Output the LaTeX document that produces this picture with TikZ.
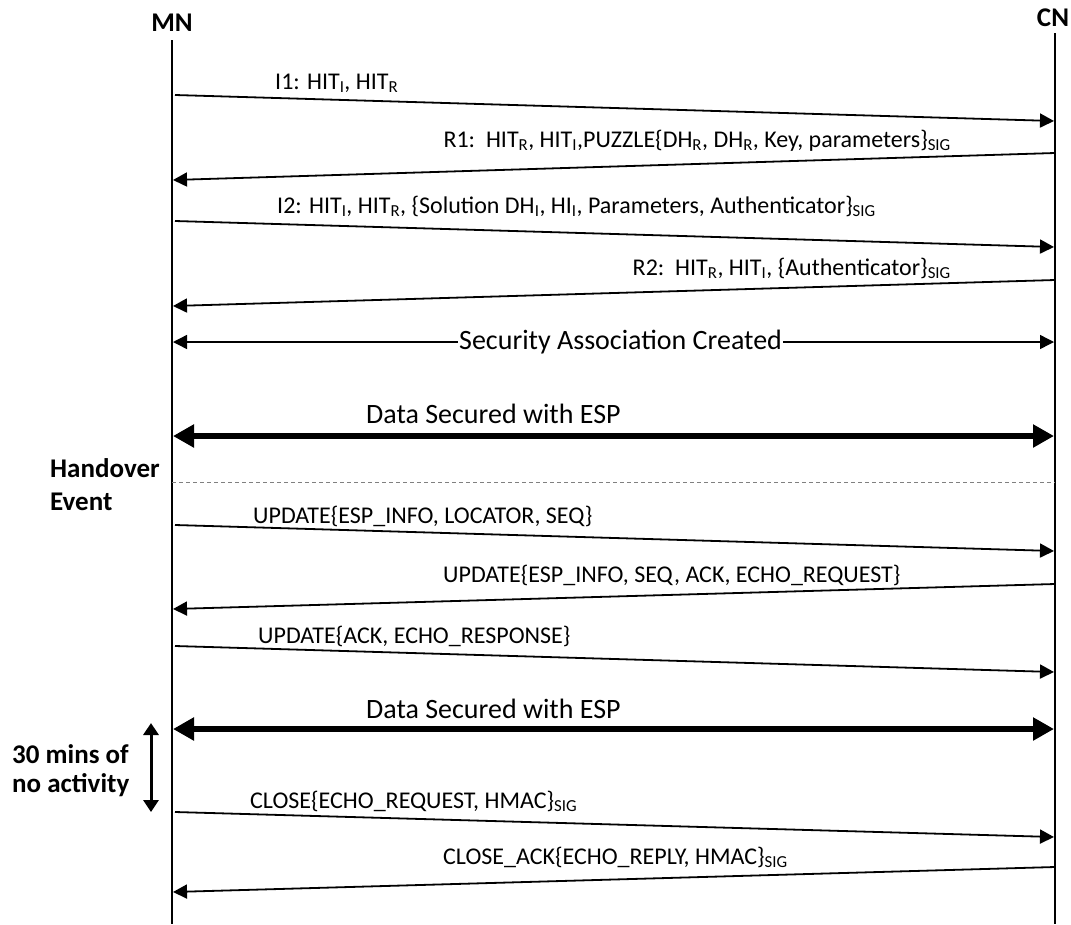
\documentclass[tikz,border=0pt]{standalone}
\usepackage{fontspec}
\setmainfont{Carlito}
\usetikzlibrary{arrows.meta}
\newcommand{\sbs}[1]{\textsubscript{#1}}

\tikzset{
  lifeline/.style={line width=2.2pt},
  msg/.style={line width=1.8pt,-{Triangle[length=14pt,width=14pt]}},
  both/.style={line width=1.4pt,{Triangle[length=14pt,width=14pt]}-{Triangle[length=14pt,width=14pt]}},
  bulk/.style={line width=6pt,{Triangle[length=21pt,width=22pt]}-{Triangle[length=21pt,width=22pt]}},
  idle/.style={line width=3pt,{Triangle[length=12pt,width=15pt]}-{Triangle[length=12pt,width=15pt]}},
  sep/.style={line width=1pt,gray,dash pattern=on 4pt off 3pt},
  lbl/.style={inner sep=0pt,font=\fontsize{24}{28}\selectfont},
  big/.style={inner sep=0pt,font=\fontsize{28}{32}\selectfont},
  head/.style={inner sep=0pt,font=\fontsize{27}{32}\selectfont\bfseries},
}

\begin{document}
\begin{tikzpicture}[x=1pt,y=-1pt]
\useasboundingbox (0,0) rectangle (1071,924);
% lifelines
\node[head] (mn) at (172,23) {MN};
\node[head] (cn) at (1053,18) {CN};
\coordinate (mntop) at (172,40);
\coordinate (mnbot) at (172,924);
\coordinate (cntop) at (1055,33);
\coordinate (cnbot) at (1055,924);
\draw[lifeline] (mntop) -- (mnbot);
\draw[lifeline] (cntop) -- (cnbot);

% base exchange
\coordinate (i1a) at (175,95);
\coordinate (i1b) at (1054,121);
\draw[msg] (i1a) -- (i1b);
\node[lbl,anchor=base west] (i1) at (275,89) {I1: HIT\sbs{I}, HIT\sbs{R}};
\coordinate (r1a) at (1055,153);
\coordinate (r1b) at (173,180);
\draw[msg] (r1a) -- (r1b);
\node[lbl,anchor=base east] (r1) at (951,147) {R1:\ \ HIT\sbs{R}, HIT\sbs{I},PUZZLE\{DH\sbs{R}, DH\sbs{R}, Key, parameters\}\sbs{SIG}};
\coordinate (i2a) at (175,221);
\coordinate (i2b) at (1054,247);
\draw[msg] (i2a) -- (i2b);
\node[lbl,anchor=base west] (i2) at (277,213) {I2: HIT\sbs{I}, HIT\sbs{R}, \{Solution DH\sbs{I}, HI\sbs{I}, Parameters, Authenticator\}\sbs{SIG}};
\coordinate (r2a) at (1055,280);
\coordinate (r2b) at (173,306);
\draw[msg] (r2a) -- (r2b);
\node[lbl,anchor=base east] (r2) at (951,275) {R2:\ \ HIT\sbs{R}, HIT\sbs{I}, \{Authenticator\}\sbs{SIG}};

% association
\coordinate (saa) at (173,342);
\coordinate (sab) at (1054,342);
\draw[both] (saa) -- node[big,pos=0.508,fill=white,inner xsep=1pt,inner ysep=2pt] (sa) {Security Association Created} (sab);
\coordinate (d1a) at (173,436);
\coordinate (d1b) at (1054,436);
\draw[bulk] (d1a) -- (d1b);
\node[big,anchor=base west] (d1) at (366,423) {Data Secured with ESP};

% handover
\coordinate (hoa) at (172,482);
\coordinate (hob) at (1055,482);
\draw[sep] (hoa) -- (hob);
\node[head,anchor=base west] (ho1) at (50,477) {Handover};
\node[head,anchor=base west] (ho2) at (50,510) {Event};
\coordinate (u1a) at (175,525);
\coordinate (u1b) at (1054,551);
\draw[msg] (u1a) -- (u1b);
\node[lbl,anchor=base west] (u1) at (253,523) {UPDATE\{ESP\_INFO, LOCATOR, SEQ\}};
\coordinate (u2a) at (1055,584);
\coordinate (u2b) at (173,609);
\draw[msg] (u2a) -- (u2b);
\node[lbl,anchor=base west] (u2) at (443,582) {UPDATE\{ESP\_INFO, SEQ, ACK, ECHO\_REQUEST\}};
\coordinate (u3a) at (175,646);
\coordinate (u3b) at (1054,672);
\draw[msg] (u3a) -- (u3b);
\node[lbl,anchor=base west] (u3) at (258,643) {UPDATE\{ACK, ECHO\_RESPONSE\}};
\coordinate (d2a) at (173,729);
\coordinate (d2b) at (1054,729);
\draw[bulk] (d2a) -- (d2b);
\node[big,anchor=base west] (d2) at (366,718) {Data Secured with ESP};

% closing
\node[head,anchor=base west] (q1) at (12,763) {30 mins of};
\node[head,anchor=base west] (q2) at (12,792) {no activity};
\coordinate (qa) at (151,723);
\coordinate (qb) at (151,812);
\draw[idle] (qa) -- (qb);
\coordinate (c1a) at (175,812);
\coordinate (c1b) at (1054,837);
\draw[msg] (c1a) -- (c1b);
\node[lbl,anchor=base west] (c1) at (250,808) {CLOSE\{ECHO\_REQUEST, HMAC\}\sbs{SIG}};
\coordinate (c2a) at (1055,867);
\coordinate (c2b) at (173,892);
\draw[msg] (c2a) -- (c2b);
\node[lbl,anchor=base west] (c2) at (443,864) {CLOSE\_ACK\{ECHO\_REPLY, HMAC\}\sbs{SIG}};
\end{tikzpicture}
\end{document}
